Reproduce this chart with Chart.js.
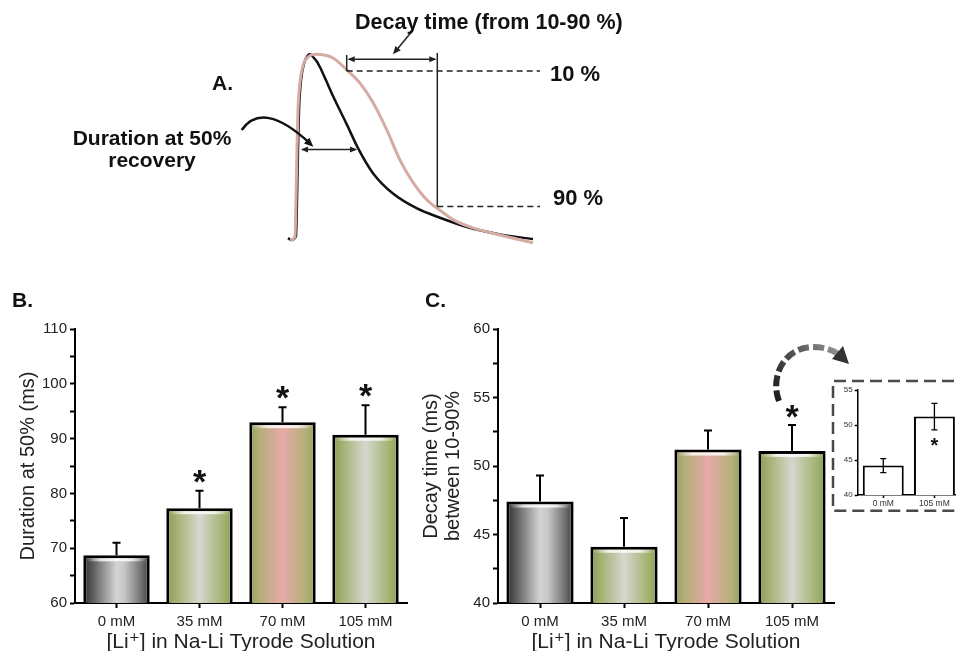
<!DOCTYPE html>
<html><head><meta charset="utf-8">
<script src="https://cdn.jsdelivr.net/npm/chart.js@4.4.1/dist/chart.umd.min.js"></script>
<style>
html,body{margin:0;padding:0;background:#fff;width:956px;height:651px;overflow:hidden;position:relative;font-family:"Liberation Sans",Arial,"DejaVu Sans",sans-serif;}
canvas{position:absolute;}
.lbl{position:absolute;font-weight:bold;color:#111;white-space:nowrap;line-height:1;transform:translateY(-50%);}
</style></head><body>
<canvas id="chartA" width="956" height="260" style="left:0px;top:0px"></canvas>
<canvas id="chartB" width="420" height="341" style="left:0px;top:310px"></canvas>
<canvas id="chartC" width="450" height="341" style="left:410px;top:310px"></canvas>
<canvas id="chartInset" width="130" height="136" style="left:830px;top:378px"></canvas>

<div class="lbl" style="left:355px;top:23px;font-size:21.5px">Decay time (from 10-90 %)</div>
<div class="lbl" style="left:212px;top:82px;font-size:21px">A.</div>
<div class="lbl" style="left:550px;top:74px;font-size:22px">10 %</div>
<div class="lbl" style="left:553px;top:198px;font-size:22px">90 %</div>
<div class="lbl" style="left:152px;top:149px;font-size:21px;line-height:22px;text-align:center;transform:translate(-50%,-50%)">Duration at 50%<br>recovery</div>
<div class="lbl" style="left:12px;top:299px;font-size:21px">B.</div>
<div class="lbl" style="left:425px;top:299px;font-size:21px">C.</div>

<script>
// ---------------- DATA ----------------
const categories = ['0 mM', '35 mM', '70 mM', '105 mM'];
const durationMean = [68.7, 77.3, 93.0, 90.7];
const durationErr  = [2.3, 3.2, 2.7, 5.4];
const durationSig  = [false, true, true, true];
const durationTicks = [60, 70, 80, 90, 100, 110];

const decayMean = [47.4, 44.1, 51.2, 51.1];
const decayErr  = [1.9, 2.1, 1.4, 1.9];
const decaySig  = [false, false, false, true];
const decayTicks = [40, 45, 50, 55, 60];

const insetCategories = ['0 mM', '105 mM'];
const insetMean = [44.2, 51.2];
const insetErr  = [1.0, 1.9];
const insetSig  = [false, true];
const insetTicks = [40, 45, 50, 55];

// Panel A traces (time in ms from onset, normalized signal)
const ctrlTime   = [0, 3, 8, 9, 10, 11, 13, 16, 20, 22, 26, 29, 32, 38, 45, 59, 70, 85, 105, 129, 152, 179, 212, 245];
const ctrlSignal = [0.01, 0, 0.02, 0.22, 0.49, 0.70, 0.86, 0.95, 0.995, 1.0, 0.98, 0.96, 0.93, 0.86, 0.775, 0.62, 0.495, 0.36, 0.25, 0.17, 0.12, 0.07, 0.03, 0.005];
const liTime   = [2, 7, 8, 9, 10, 12, 15, 20, 29, 37, 45, 59, 72, 85, 99, 112, 125, 139, 152, 165, 185, 212, 245];
const liSignal = [0, 0.02, 0.22, 0.49, 0.70, 0.85, 0.94, 0.985, 1.0, 0.995, 0.98, 0.915, 0.845, 0.74, 0.59, 0.43, 0.31, 0.215, 0.16, 0.11, 0.065, 0.027, -0.015];

// Panel A annotation levels (in trace units)
const level10 = 0.91, level90 = 0.18;
const decayStart = 58.7, decayEnd = 149.3, levelLineEnd = 252;
const decayArrowLevel = 0.973, decayTickTop = 0.996, decayLineTop = 1.007;
const durStart = 12, durEnd = 70, durLevel = 0.488;

// ---------------- STYLE ----------------
const FONT = '"Liberation Sans", Arial, "DejaVu Sans", sans-serif';
const grayStops  = [[0,'#2e2e2e'],[0.12,'#555555'],[0.5,'#d4d4d4'],[0.62,'#c6c6c6'],[0.88,'#6e6e6e'],[1,'#3c3c3c']];
const greenStops = [[0,'#8c9b58'],[0.15,'#a3b070'],[0.5,'#d6d7cf'],[0.85,'#a4b471'],[1,'#8e9e5a']];
const pinkStops  = [[0,'#98a05c'],[0.15,'#b2ae78'],[0.5,'#e8a9a8'],[0.85,'#b3b079'],[1,'#97a15d']];
const barStops = [grayStops, greenStops, pinkStops, greenStops];

function gradientFill(stopsList, pct) {
  return (c) => {
    const stops = stopsList[(c.dataIndex || 0) % stopsList.length];
    const chart = c.chart; const xs = chart.scales.x;
    if (c.type !== 'data' || !chart.chartArea || !xs || !xs.width) return stops[2][1];
    const slot = xs.width / chart.data.labels.length;
    const cx = xs.getPixelForValue(c.dataIndex);
    const half = slot * pct / 2;
    const g = chart.ctx.createLinearGradient(cx - half, 0, cx + half, 0);
    stops.forEach(([o, col]) => g.addColorStop(o, col));
    return g;
  };
}

const highlightPlugin = {
  id: 'highlight',
  afterDatasetsDraw(chart) {
    const ctx = chart.ctx;
    chart.getDatasetMeta(0).data.forEach(bar => {
      const x0 = bar.x - bar.width / 2 + 3, x1 = bar.x + bar.width / 2 - 3;
      const g = ctx.createLinearGradient(x0, 0, x1, 0);
      g.addColorStop(0, 'rgba(255,255,255,0)');
      g.addColorStop(0.25, 'rgba(255,255,255,0.8)');
      g.addColorStop(0.75, 'rgba(255,255,255,0.8)');
      g.addColorStop(1, 'rgba(255,255,255,0)');
      ctx.save(); ctx.fillStyle = g;
      ctx.fillRect(x0, bar.y + 3, x1 - x0, 3);
      ctx.restore();
    });
  }
};

function errorPlugin(means, errs, sig, opt) {
  return {
    id: 'errbars',
    afterDatasetsDraw(chart) {
      const ctx = chart.ctx, y = chart.scales.y;
      ctx.save();
      chart.getDatasetMeta(0).data.forEach((bar, i) => {
        const top = y.getPixelForValue(means[i] + errs[i]);
        const bottom = y.getPixelForValue(opt.both ? means[i] - errs[i] : means[i]);
        ctx.strokeStyle = '#000'; ctx.lineWidth = opt.lw; ctx.setLineDash([]);
        ctx.beginPath();
        ctx.moveTo(bar.x, bottom); ctx.lineTo(bar.x, top);
        ctx.moveTo(bar.x - opt.cap / 2, top); ctx.lineTo(bar.x + opt.cap / 2, top);
        if (opt.both) { ctx.moveTo(bar.x - opt.cap / 2, bottom); ctx.lineTo(bar.x + opt.cap / 2, bottom); }
        ctx.stroke();
        if (sig[i]) {
          ctx.font = opt.starFont; ctx.fillStyle = '#111';
          ctx.textAlign = 'center'; ctx.textBaseline = 'alphabetic';
          ctx.fillText('*', bar.x, opt.both ? bottom + opt.starShift : top + opt.starShift);
        }
      });
      ctx.restore();
    }
  };
}

function barChart(id, o) {
  return new Chart(document.getElementById(id), {
    type: 'bar',
    data: { labels: o.labels, datasets: [{
      data: o.values, backgroundColor: o.fill, borderColor: '#000', borderWidth: o.bw,
      borderSkipped: false, barPercentage: 0.8, categoryPercentage: 1
    }]},
    options: {
      responsive: false, animation: false, events: [],
      layout: { padding: o.padding },
      plugins: { legend: { display: false }, tooltip: { enabled: false } },
      scales: {
        x: {
          type: 'category', offset: true,
          grid: { offset: false, drawOnChartArea: false, drawTicks: true, tickLength: o.tl, tickColor: '#000', tickWidth: o.axisW },
          border: { display: true, color: '#000', width: o.axisW },
          ticks: { font: { family: FONT, size: o.xTickSize, weight: o.tickWeight }, color: o.tickColor, padding: o.xTickPad, maxRotation: 0, autoSkip: false },
          title: o.xTitle ? { display: true, text: o.xTitle, color: '#222', font: { family: FONT, size: 21, lineHeight: 0.8 }, padding: { top: 0, bottom: 0 } } : { display: false },
          afterFit: (s) => { s.height = o.xHeight; }
        },
        y: {
          min: o.min, max: o.max,
          grid: { drawOnChartArea: false, drawTicks: true, tickLength: o.tl, tickColor: '#000', tickWidth: o.axisW },
          border: { display: true, color: '#000', width: o.axisW },
          ticks: { stepSize: o.step, autoSkip: false, padding: o.yTickPad, color: o.tickColor,
                   font: { family: FONT, size: o.yTickSize, weight: o.tickWeight },
                   callback: (v) => o.tickLabels.includes(v) ? String(v) : '' },
          title: o.yTitle ? { display: true, text: o.yTitle, color: '#222', font: { family: FONT, size: 20, lineHeight: o.yTitleLH }, padding: { top: o.yTitlePad, bottom: 0 } } : { display: false },
          afterFit: (s) => { s.width = o.yWidth; }
        }
      }
    },
    plugins: o.plugins
  });
}

// ---------------- PANEL A ----------------
function pts(t, s) { return t.map((v, i) => ({ x: v, y: s[i] })); }
const annotA = {
  id: 'annotA',
  afterDatasetsDraw(chart) {
    const ctx = chart.ctx, xs = chart.scales.x, ys = chart.scales.y;
    const X = v => xs.getPixelForValue(v), Y = v => ys.getPixelForValue(v);
    const line = (a, b, c, d) => { ctx.beginPath(); ctx.moveTo(a, b); ctx.lineTo(c, d); ctx.stroke(); };
    const head = (tx, ty, dx, dy, len, w) => {
      const n = Math.hypot(dx, dy); const ux = dx / n, uy = dy / n;
      ctx.beginPath(); ctx.moveTo(tx, ty);
      ctx.lineTo(tx - ux * len - uy * w, ty - uy * len + ux * w);
      ctx.lineTo(tx - ux * len + uy * w, ty - uy * len - ux * w);
      ctx.closePath(); ctx.fill();
    };
    ctx.save();
    ctx.strokeStyle = '#222'; ctx.fillStyle = '#222'; ctx.lineWidth = 1.5;
    ctx.setLineDash([6, 4]);
    line(X(decayStart), Y(level10), X(levelLineEnd), Y(level10));
    line(X(decayEnd), Y(level90), X(levelLineEnd), Y(level90));
    ctx.setLineDash([]);
    line(X(decayStart), Y(level10), X(decayStart), Y(decayTickTop));
    line(X(decayEnd), Y(level90), X(decayEnd), Y(decayLineTop));
    const ya = Y(decayArrowLevel);
    line(X(decayStart) + 2, ya, X(decayEnd) - 2, ya);
    head(X(decayStart) + 1, ya, -1, 0, 7, 3); head(X(decayEnd) - 1, ya, 1, 0, 7, 3);
    const yd = Y(durLevel);
    line(X(durStart) + 2, yd, X(durEnd) - 2, yd);
    head(X(durStart) + 1, yd, -1, 0, 7, 3); head(X(durEnd) - 1, yd, 1, 0, 7, 3);
    const px0 = X(125), py0 = Y(1.131), px1 = X(105), py1 = Y(1.0);
    line(px0, py0, px1 + 3, py1 - 3.5);
    head(px1, py1, px1 - px0, py1 - py0, 8, 3.5);
    const sx = X(-46.3), sy = Y(0.592), cx = X(-25.3), cy = Y(0.755), ex = X(25.3), ey = Y(0.502);
    ctx.lineWidth = 2.5; ctx.strokeStyle = '#111'; ctx.fillStyle = '#111';
    ctx.beginPath(); ctx.moveTo(sx, sy); ctx.quadraticCurveTo(cx, cy, ex - 4, ey - 4); ctx.stroke();
    head(ex, ey, ex - cx, ey - cy, 9, 4);
    ctx.restore();
  }
};
new Chart(document.getElementById('chartA'), {
  type: 'scatter',
  data: { datasets: [
    { data: pts(liTime, liSignal), showLine: true, borderColor: '#d6aba3', borderWidth: 3, pointRadius: 0, cubicInterpolationMode: 'monotone', fill: false },
    { data: pts(ctrlTime, ctrlSignal), showLine: true, borderColor: '#111111', borderWidth: 2.5, pointRadius: 0, cubicInterpolationMode: 'monotone', fill: false }
  ]},
  options: {
    responsive: false, animation: false, events: [],
    layout: { padding: 0 },
    plugins: { legend: { display: false }, tooltip: { enabled: false } },
    scales: {
      x: { type: 'linear', display: false, min: -288, max: 668 },
      y: { type: 'linear', display: false, min: -0.1077, max: 1.2924 }
    }
  },
  plugins: [annotA]
});

// ---------------- PANEL B ----------------
barChart('chartB', {
  labels: categories, values: durationMean, fill: gradientFill(barStops, 0.8), bw: 3,
  padding: { top: 19, right: 13, left: 0, bottom: 0 },
  min: 60, max: 110, step: 5, tickLabels: durationTicks,
  tl: 5, axisW: 2, xTickSize: 15, yTickSize: 15, tickWeight: 'normal', tickColor: '#222', xTickPad: 5, yTickPad: 3,
  xTitle: '[Li\u207A] in Na-Li Tyrode Solution', xHeight: 48,
  yTitle: 'Duration at 50% (ms)', yTitleLH: 1.2, yTitlePad: 16.5, yWidth: 75,
  plugins: [highlightPlugin, errorPlugin(durationMean, durationErr, durationSig, { lw: 2, cap: 8, both: false, starFont: 'bold 34px ' + FONT, starShift: 2 })]
});

// ---------------- PANEL C ----------------
const curvedArrowC = {
  id: 'curvedArrow',
  afterDraw(chart) {
    const ctx = chart.ctx;
    const ox = 410, oy = 310;
    ctx.save();
    ctx.translate(-ox, -oy);
    const g = ctx.createLinearGradient(775, 400, 845, 350);
    g.addColorStop(0, '#1a1a1a'); g.addColorStop(0.5, '#555'); g.addColorStop(1, '#9a9a9a');
    ctx.strokeStyle = g; ctx.lineWidth = 6; ctx.setLineDash([11, 4]);
    ctx.beginPath(); ctx.moveTo(779, 401);
    ctx.bezierCurveTo(770, 378, 783, 348, 812, 347);
    ctx.quadraticCurveTo(829, 347, 838, 354);
    ctx.stroke();
    ctx.setLineDash([]);
    ctx.fillStyle = '#333';
    ctx.beginPath(); ctx.moveTo(849, 364); ctx.lineTo(832, 359); ctx.lineTo(843, 346); ctx.closePath(); ctx.fill();
    ctx.restore();
  }
};
barChart('chartC', {
  labels: categories, values: decayMean, fill: gradientFill(barStops, 0.8), bw: 3,
  padding: { top: 19, right: 26, left: 0, bottom: 0 },
  min: 40, max: 60, step: 2.5, tickLabels: decayTicks,
  tl: 5, axisW: 2, xTickSize: 15, yTickSize: 15, tickWeight: 'normal', tickColor: '#222', xTickPad: 5, yTickPad: 3,
  xTitle: '[Li\u207A] in Na-Li Tyrode Solution', xHeight: 48,
  yTitle: ['Decay time (ms)', 'between 10-90%'], yTitleLH: 1.1, yTitlePad: 10.7, yWidth: 88,
  plugins: [highlightPlugin, errorPlugin(decayMean, decayErr, decaySig, { lw: 2, cap: 8, both: false, starFont: 'bold 34px ' + FONT, starShift: 3 }), curvedArrowC]
});

// ---------------- INSET ----------------
const insetBox = {
  id: 'insetBox',
  beforeDraw(chart) {
    const ctx = chart.ctx;
    ctx.save();
    ctx.strokeStyle = '#4a4a4a'; ctx.lineWidth = 2.5; ctx.setLineDash([12, 6]);
    ctx.beginPath();
    ctx.moveTo(160, 3); ctx.lineTo(3, 3); ctx.lineTo(3, 132.7); ctx.lineTo(160, 132.7);
    ctx.stroke();
    ctx.restore();
  }
};
barChart('chartInset', {
  labels: insetCategories, values: insetMean, fill: '#ffffff', bw: 2,
  padding: { top: 12, right: 0, left: 0, bottom: 0 },
  min: 40, max: 55, step: 5, tickLabels: insetTicks,
  tl: 3, axisW: 1.5, xTickSize: 8.5, yTickSize: 8, tickWeight: 'normal', tickColor: '#333', xTickPad: 1, yTickPad: 2,
  xTitle: null, xHeight: 19,
  yTitle: null, yWidth: 27.7,
  plugins: [insetBox, errorPlugin(insetMean, insetErr, insetSig, { lw: 1.3, cap: 6, both: true, starFont: 'bold 20px ' + FONT, starShift: 22 })]
});
</script>
</body></html>
